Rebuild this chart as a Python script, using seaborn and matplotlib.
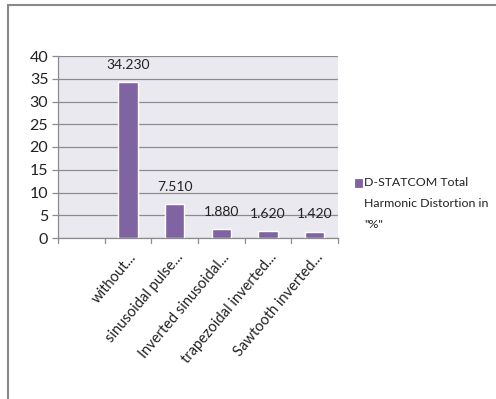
import matplotlib
matplotlib.use("Agg")
import matplotlib.pyplot as plt
import matplotlib.transforms as mtransforms
from matplotlib.lines import Line2D
from matplotlib.patches import Rectangle
import seaborn as sns
import pandas as pd

# Data
categories = ["", "without...", "sinusoidal pulse...", "Inverted sinusoidal...",
              "trapezoidal inverted...", "Sawtooth inverted..."]
measured = ["without...", "sinusoidal pulse...", "Inverted sinusoidal...",
            "trapezoidal inverted...", "Sawtooth inverted..."]
thd_values = [34.230, 7.510, 1.880, 1.620, 1.420]
legend_lines = ["D-STATCOM Total", "Harmonic Distortion in", '"%"']
y_ticks = [0, 5, 10, 15, 20, 25, 30, 35, 40]

BAR = "#8064A2"
FACE = "#EBE9F0"
GRID = "#8C8C8C"
TXT = "#222222"

sns.set_theme(style="white")
plt.rcParams["font.family"] = ["Lato", "DejaVu Sans"]

W, H = 496, 399
fig = plt.figure(figsize=(W / 100, H / 100), dpi=100)
ax = fig.add_axes([58 / W, 1 - 238 / H, (338 - 58) / W, (238 - 56) / H])

df = pd.DataFrame({"category": measured, "value": thd_values})
sns.barplot(data=df, x="category", y="value", order=categories,
            color=BAR, saturation=1, width=0.42, ax=ax, zorder=3)

ax.set_facecolor(FACE)
ax.set_xlim(-0.5, len(categories) - 0.5)
ax.set_ylim(0, 40)
ax.set_yticks(y_ticks)
ax.yaxis.grid(True, color=GRID, linewidth=0.9, zorder=0)
ax.set_axisbelow(True)
ax.set_xlabel("")
ax.set_ylabel("")

for side in ["top", "right"]:
    ax.spines[side].set_visible(False)
for side in ["left", "bottom"]:
    ax.spines[side].set_color(GRID)
    ax.spines[side].set_linewidth(0.9)

# Category labels, with tick marks on the category boundaries
ax.set_xticks(range(len(categories)))
ax.set_xticklabels(categories, rotation=50, ha="right", rotation_mode="anchor",
                   fontsize=10.5, color=TXT)
ax.tick_params(axis="x", length=0, pad=4)
shift = mtransforms.ScaledTranslation(0.5 / 72, -5 / 72, fig.dpi_scale_trans)
for lab in ax.get_xticklabels():
    lab.set_transform(lab.get_transform() + shift)
for b in [i + 0.5 for i in range(-1, len(categories))]:
    ax.plot([b, b], [0, -0.028], transform=ax.get_xaxis_transform(),
            color=GRID, lw=0.9, clip_on=False)
ax.tick_params(axis="y", length=4, width=0.9, color=GRID, labelsize=11.5,
               labelcolor=TXT, pad=3, left=True)

# Value labels above bars
for cat, v in zip(measured, thd_values):
    ax.annotate(f"{v:.3f}", (categories.index(cat), v), xytext=(0, 8),
                textcoords="offset points", ha="center", va="bottom",
                fontsize=10, color=TXT)

# Legend: swatch plus three text lines
fig.add_artist(Rectangle((355 / W, 1 - 187 / H), 7 / W, 8 / H,
                         transform=fig.transFigure, facecolor=BAR,
                         edgecolor="#6E5590", lw=0.5))
for i, line in enumerate(legend_lines):
    fig.text(364 / W, 1 - (182 + 21.5 * i) / H, line, ha="left", va="center",
             fontsize=8.9, color=TXT)

# Outer chart frame (top and left edges)
fig.add_artist(Line2D([8 / W, 1], [1 - 5 / H, 1 - 5 / H], color="#8A8A8A", lw=1.5))
fig.add_artist(Line2D([8 / W, 8 / W], [0, 1 - 5 / H], color="#8A8A8A", lw=1.5))

fig.savefig("out.png", dpi=100, facecolor="white")
